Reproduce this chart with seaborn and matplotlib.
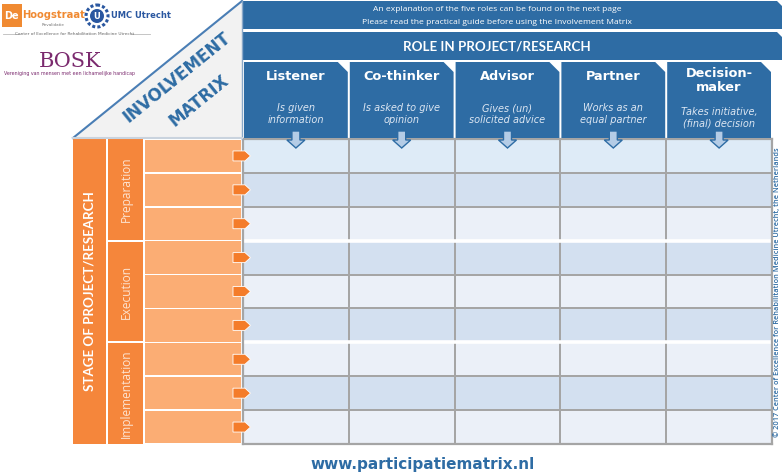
import numpy as np
import matplotlib
matplotlib.use("Agg")
import matplotlib.pyplot as plt
from matplotlib.colors import ListedColormap
from matplotlib.patches import Polygon, Rectangle, Circle
import seaborn as sns

# ---- content of the matrix ----
roles = ["Listener", "Co-thinker", "Advisor", "Partner", "Decision-\nmaker"]
role_descriptions = ["Is given\ninformation", "Is asked to give\nopinion", "Gives (un)\nsolicited advice",
                     "Works as an\nequal partner", "Takes initiative,\n(final) decision"]
stages = ["Preparation", "Execution", "Implementation"]
rows_per_stage = 3
# shade index of each of the 9 rows of the grid (0 = light blue, 1 = mid blue, 2 = pale)
row_shades = [0, 1, 2, 1, 2, 1, 2, 1, 2]
cell_colors = ["#deebf7", "#d3e0f0", "#ebf0f8"]

banner_lines = ["An explanation of the five roles can be found on the next page",
                "Please read the practical guide before using the Involvement Matrix"]
role_title = "ROLE IN PROJECT/RESEARCH"
stage_title = "STAGE OF PROJECT/RESEARCH"
matrix_title = ["INVOLVEMENT", "MATRIX"]
url = "www.participatiematrix.nl"
copyright_text = "© 2017 Center of Excellence for Rehabilitation Medicine Utrecht, the Netherlands"

BLUE = "#2e6ca4"
ORANGE = "#f5863b"
PALE_ORANGE = "#fbad74"
GRID = "#a5a5a5"

W, H = 784, 474
fig = plt.figure(figsize=(W / 100, H / 100), dpi=100)

# grid area in pixels
gx0, gx1, gy0, gy1 = 243, 772, 139, 444
ncols = len(roles)
nrows = len(row_shades)
cw = (gx1 - gx0) / ncols
rh = (gy1 - gy0) / nrows

# ---- the grid of cells (seaborn heatmap) ----
hax = fig.add_axes([gx0 / W, 1 - gy1 / H, (gx1 - gx0) / W, (gy1 - gy0) / H])
cells = np.repeat(np.array(row_shades)[:, None], ncols, axis=1)
sns.heatmap(cells, ax=hax, cmap=ListedColormap(cell_colors), vmin=-0.5, vmax=2.5,
            cbar=False, linewidths=1.3, linecolor=GRID, xticklabels=False, yticklabels=False)
for k in range(1, len(stages)):
    hax.axhline(k * rows_per_stage, color="white", lw=2.6)
for s in hax.spines.values():
    s.set_visible(True)
    s.set_color(GRID)
    s.set_linewidth(1.6)

# ---- overlay axes in pixel coordinates ----
ax = fig.add_axes([0, 0, 1, 1])
ax.set_xlim(0, W)
ax.set_ylim(H, 0)
ax.axis("off")
ax.patch.set_facecolor("none")


def clipped(x0, y0, x1, y1, c, color):
    pts = [(x0, y0), (x1 - c, y0), (x1, y0 + c), (x1, y1), (x0, y1)]
    ax.add_patch(Polygon(pts, closed=True, facecolor=color, edgecolor="none"))


# top banners
clipped(242, 1, 782, 29, 5, BLUE)
for i, line in enumerate(banner_lines):
    ax.text(497, 9.5 + i * 12.5, line, ha="center", va="center", color="white",
            fontsize=6.1, family="Open Sans")
clipped(242, 32, 782, 60, 5, BLUE)
ax.text(497, 46.5, role_title, ha="center", va="center", color="white",
        fontsize=9.6, fontweight="bold", family="Lato")

# role headers
for i, (r, d) in enumerate(zip(roles, role_descriptions)):
    x0 = gx0 + i * cw + 1
    x1 = gx0 + (i + 1) * cw - 1
    cx = (x0 + x1) / 2
    clipped(x0, 62, x1, 138, 10, BLUE)
    if "\n" in r:
        ax.text(cx, 80.5, r, ha="center", va="center", color="white", fontsize=9.3,
                fontweight="bold", family="DejaVu Sans", linespacing=1.05)
        ax.text(cx, 117.5, d, ha="center", va="center", color="#dce6f2", fontsize=7,
                style="italic", family="DejaVu Sans", linespacing=1.15)
    else:
        ax.text(cx, 76, r, ha="center", va="center", color="white", fontsize=9.3,
                fontweight="bold", family="DejaVu Sans")
        ax.text(cx, 114, d, ha="center", va="center", color="#dce6f2", fontsize=7,
                style="italic", family="DejaVu Sans", linespacing=1.15)
    arrow = [(cx - 4, 131), (cx + 4, 131), (cx + 4, 140), (cx + 9, 140), (cx, 148),
             (cx - 9, 140), (cx - 4, 140)]
    ax.add_patch(Polygon(arrow, closed=True, facecolor="#b4cce6", edgecolor=BLUE, lw=1, zorder=5))

# triangle with the title
ax.add_patch(Polygon([(73, 138), (242, 1), (242, 138)], closed=True,
                     facecolor="#f2f2f2", edgecolor="none"))
ax.plot([73, 242], [138, 1], color="#4a7eb5", lw=1.5)
ax.plot([242, 242], [1, 139], color="#8aa9c9", lw=1)
ax.plot([73, 242], [138, 138], color="#c9d3de", lw=1.5)
ax.text(177, 77, matrix_title[0], rotation=39, ha="center", va="center", color=BLUE,
        fontsize=12, fontweight="bold", family="DejaVu Sans", rotation_mode="anchor")
ax.text(199, 101, matrix_title[1], rotation=39, ha="center", va="center", color=BLUE,
        fontsize=12, fontweight="bold", family="DejaVu Sans", rotation_mode="anchor")

# stage column
ax.add_patch(Rectangle((73, gy0), 33, gy1 - gy0, facecolor=ORANGE, edgecolor="none"))
ax.text(90, 291, stage_title, rotation=90, ha="center", va="center",
        color="white", fontsize=9.6, fontweight="bold", family="Lato")
for k, st in enumerate(stages):
    sy0 = gy0 + k * rows_per_stage * rh + (1 if k else 0)
    sy1 = gy0 + (k + 1) * rows_per_stage * rh - (1 if k < len(stages) - 1 else 0)
    ax.add_patch(Rectangle((108, sy0), 35, sy1 - sy0, facecolor=ORANGE, edgecolor="none"))
    ax.text(126, (sy0 + sy1) / 2, st, rotation=90, ha="center", va="center",
            color="#fde3d0", fontsize=8.6, family="Open Sans")
for j in range(nrows):
    y0 = gy0 + j * rh
    ax.add_patch(Rectangle((145, y0 + 0.8), 96, rh - 1.6, facecolor=PALE_ORANGE, edgecolor="none"))
    yc = y0 + rh / 2
    pent = [(233, yc - 5), (245, yc - 5), (250.5, yc), (245, yc + 5), (233, yc + 5)]
    ax.add_patch(Polygon(pent, closed=True, facecolor="#f47c2a", edgecolor="white", lw=0.6, zorder=6))

# logos (approximated)
ax.add_patch(Rectangle((2, 4), 20, 23, facecolor="#f08a32", edgecolor="none"))
ax.text(4, 16, "De", color="white", fontsize=7, fontweight="bold", va="center", family="DejaVu Sans")
ax.text(22, 15, "Hoogstraat", color="#f08a32", fontsize=7.2, fontweight="bold", va="center",
        family="DejaVu Sans")
ax.text(65, 24.5, "Revalidatie", color="#777777", fontsize=3, ha="right", va="center")
ax.add_patch(Circle((97, 16), 11, facecolor="none", edgecolor="#2a57a0", lw=2.2, ls=(0, (1, 0.7))))
ax.add_patch(Circle((97, 16), 7, facecolor="#2a57a0", edgecolor="none"))
ax.text(97, 16.5, "U", color="white", fontsize=6, fontweight="bold", ha="center", va="center")
ax.text(111, 15.5, "UMC Utrecht", color="#2a57a0", fontsize=6, fontweight="bold", va="center",
        family="DejaVu Sans")
ax.plot([3, 20], [34, 34], color="#bbbbbb", lw=0.6)
ax.plot([131, 150], [34, 34], color="#bbbbbb", lw=0.6)
ax.text(75, 34, "Center of Excellence for Rehabilitation Medicine Utrecht", color="#666666",
        fontsize=3.1, ha="center", va="center")
ax.text(70, 61, "BOSK", color="#7b2a6e", fontsize=15, ha="center", va="center", family="DejaVu Serif")
ax.text(70, 73, "Vereniging van mensen met een lichamelijke handicap", color="#7b2a6e",
        fontsize=3.4, ha="center", va="center")

# footer and copyright
ax.text(423, 465, url, ha="center", va="center", color=BLUE, fontsize=11,
        fontweight="bold", family="DejaVu Sans")
ax.text(777.5, 292, copyright_text, rotation=90, ha="center", va="center", color=BLUE,
        fontsize=5.3, fontweight="semibold", family="Open Sans")

fig.savefig("out.png", dpi=100)
